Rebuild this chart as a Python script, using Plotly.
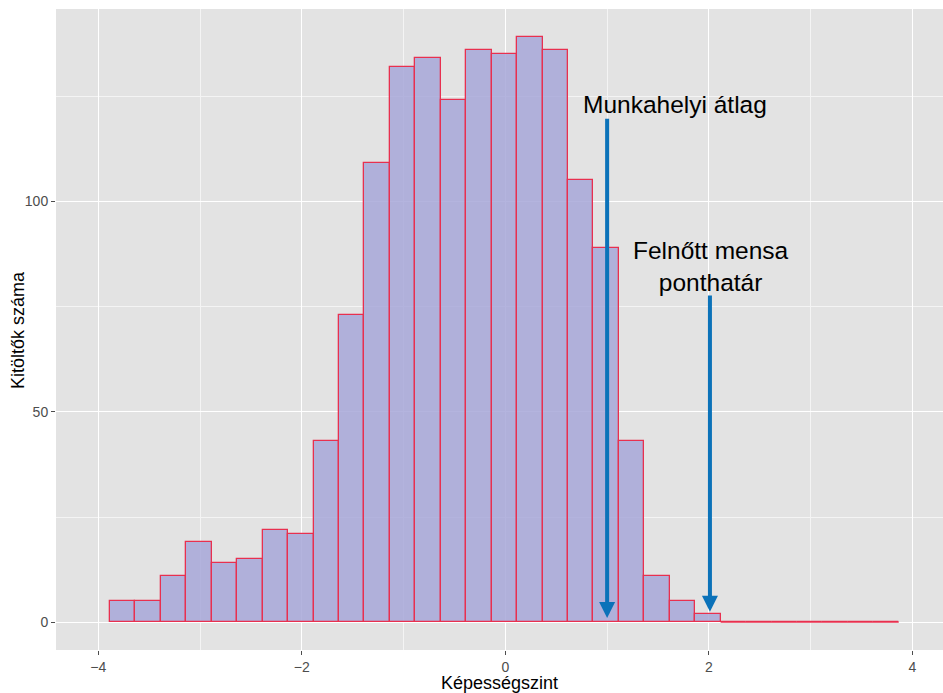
import plotly.graph_objects as go

# Data
bin_start = -3.885
bin_width = 0.25
counts = [5, 5, 11, 19, 14, 15, 22, 21, 43, 73, 109, 132, 134, 124, 136, 135,
          139, 136, 105, 89, 43, 11, 5, 2, 0, 0, 0, 0, 0, 0, 0]
x_ticks = [-4, -2, 0, 2, 4]
x_tick_labels = ["\u22124", "\u22122", "0", "2", "4"]
y_ticks = [0, 50, 100]
marker_labels = ["Munkahelyi átlag", "Felnőtt mensa<br>ponthatár"]
marker_x = [1.0, 2.01]
marker_top = [120, 78]
marker_tip = [1, 2.5]

centers = [bin_start + bin_width * (i + 0.5) for i in range(len(counts))]
last_nonzero = max(i for i, c in enumerate(counts) if c > 0)

FONT = "Liberation Sans, Arial"

fig = go.Figure()
fig.add_trace(go.Bar(
    x=centers, y=counts, width=bin_width,
    marker=dict(color="rgba(167,167,216,0.85)",
                line=dict(color="#e8304f", width=1.3)),
    hoverinfo="skip", showlegend=False,
))
# zero-height bins outline along baseline
fig.add_trace(go.Scatter(
    x=[bin_start + bin_width * (last_nonzero + 1), bin_start + bin_width * len(counts)],
    y=[0, 0], mode="lines", line=dict(color="#e8304f", width=1.3),
    hoverinfo="skip", showlegend=False,
))

annotations = []
for xm, top, tip in zip(marker_x, marker_top, marker_tip):
    annotations.append(dict(
        x=xm, y=tip, ax=xm, ay=top, xref="x", yref="y", axref="x", ayref="y",
        text="", showarrow=True, arrowhead=2, arrowsize=0.8, arrowwidth=4,
        arrowcolor="#0b72b9",
    ))
annotations.append(dict(x=1.665, y=123, xref="x", yref="y", text=marker_labels[0],
                        showarrow=False, font=dict(size=24.5, color="black", family=FONT)))
annotations.append(dict(x=2.02, y=84.5, xref="x", yref="y", text=marker_labels[1],
                        showarrow=False, font=dict(size=24.5, color="black", family=FONT)))
# axis titles
annotations.append(dict(x=0.5, y=-0.051, xref="paper", yref="paper", text="Képességszint",
                        showarrow=False, xanchor="center", yanchor="middle",
                        font=dict(size=18, color="black", family=FONT)))
annotations.append(dict(x=-0.0435, y=0.5, xref="paper", yref="paper", text="Kitöltők száma",
                        showarrow=False, xanchor="center", yanchor="middle", textangle=-90,
                        font=dict(size=18, color="black", family=FONT)))

fig.update_layout(
    width=943, height=693,
    margin=dict(l=56, r=0, t=9, b=43, autoexpand=False),
    paper_bgcolor="white", plot_bgcolor="#e3e3e3",
    bargap=0,
    font=dict(family=FONT, color="#4d4d4d", size=12),
    annotations=annotations,
    xaxis=dict(
        range=[-4.415, 4.30], tickvals=x_ticks, ticktext=x_tick_labels,
        showgrid=True, gridcolor="white", gridwidth=1.4, zeroline=False,
        ticks="outside", ticklen=4, tickcolor="#4d4d4d", tickwidth=1,
        tickfont=dict(size=14, color="#4d4d4d"), automargin=False,
        minor=dict(tickvals=[-3, -1, 1, 3], showgrid=True, gridcolor="#f4f4f4", gridwidth=0.7, ticks=""),
    ),
    yaxis=dict(
        range=[-6.6, 145.7], tickvals=y_ticks,
        showgrid=True, gridcolor="white", gridwidth=1.4, zeroline=False,
        ticks="outside", ticklen=4, tickcolor="#4d4d4d", tickwidth=1,
        tickfont=dict(size=14, color="#4d4d4d"), automargin=False,
        minor=dict(tickvals=[25, 75, 125], showgrid=True, gridcolor="#f4f4f4", gridwidth=0.7, ticks=""),
    ),
)

fig.write_html("out.html", config={"displayModeBar": False},
               post_script="document.body.style.margin='0';document.body.style.overflow='hidden';")
